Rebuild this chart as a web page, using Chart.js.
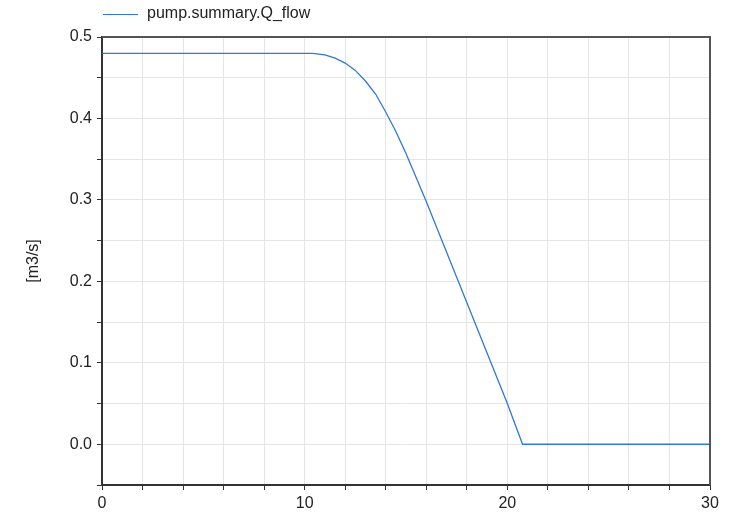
<!DOCTYPE html>
<html lang="en">
<head>
<meta charset="UTF-8">
<title>pump.summary.Q_flow</title>
<script src="https://cdn.jsdelivr.net/npm/chart.js"></script>
<style>
  html, body { margin: 0; padding: 0; background: #fff; }
  #wrap { width: 730px; height: 515px; }
</style>
</head>
<body>
<div id="wrap"><canvas id="chart" width="730" height="515"></canvas></div>
<script>
// time [s]
const timeValues = [0, 10.4, 11, 11.5, 12, 12.5, 13, 13.5, 14, 14.5, 15, 16, 17, 18, 19, 20, 20.75, 30];
// volume flow [m3/s]
const flowValues = [0.48, 0.48, 0.478, 0.474, 0.468, 0.459, 0.446, 0.43, 0.408, 0.384, 0.357, 0.298, 0.236, 0.174, 0.112, 0.05, 0, 0];
const seriesName = 'pump.summary.Q_flow';
const yTitle = '[m3/s]';

const lineColor = 'rgb(50, 120, 215)';
const fontFamily = '"Liberation Sans", Arial, sans-serif';

// rahmen oben und rechts + legende
const framePlugin = {
    id: 'frame',
    afterDraw(chart) {
        const { ctx, chartArea } = chart;
        ctx.save();
        ctx.strokeStyle = '#555';
        ctx.lineWidth = 2;
        ctx.beginPath();
        ctx.moveTo(chartArea.left, chartArea.top);
        ctx.lineTo(chartArea.right, chartArea.top);
        ctx.lineTo(chartArea.right, chartArea.bottom);
        ctx.stroke();

        // legende
        ctx.strokeStyle = lineColor;
        ctx.lineWidth = 1.2;
        ctx.beginPath();
        ctx.moveTo(103, 14.5);
        ctx.lineTo(138, 14.5);
        ctx.stroke();
        ctx.fillStyle = '#222';
        ctx.font = '16px ' + fontFamily;
        ctx.textBaseline = 'middle';
        ctx.textAlign = 'left';
        ctx.fillText(seriesName, 147, 14);
        ctx.restore();
    }
};

const points = timeValues.map((t, i) => ({ x: t, y: flowValues[i] }));

new Chart(document.getElementById('chart'), {
    type: 'line',
    data: {
        datasets: [{
            label: seriesName,
            data: points,
            borderColor: lineColor,
            borderWidth: 1.3,
            pointRadius: 0,
            tension: 0,
            fill: false
        }]
    },
    options: {
        responsive: false,
        animation: false,
        layout: { padding: { top: 37, right: 20, left: 0, bottom: 0 } },
        plugins: {
            legend: { display: false },
            tooltip: { enabled: false }
        },
        scales: {
            x: {
                type: 'linear',
                min: 0,
                max: 30,
                ticks: {
                    stepSize: 2,
                    autoSkip: false,
                    maxRotation: 0,
                    padding: 4,
                    color: '#222',
                    font: { family: fontFamily, size: 16 },
                    callback: v => (v % 10 === 0 ? String(v) : '')
                },
                grid: { color: '#e6e6e6', tickColor: '#333', tickLength: 5, lineWidth: 1 },
                border: { color: '#333', width: 2 },
                afterFit(scale) { scale.height = 30; }
            },
            y: {
                type: 'linear',
                min: -0.05,
                max: 0.5,
                ticks: {
                    stepSize: 0.05,
                    autoSkip: false,
                    padding: 5,
                    color: '#222',
                    font: { family: fontFamily, size: 16 },
                    callback: v => {
                        const r = Math.round(v * 10);
                        return Math.abs(v * 10 - r) < 1e-6 ? (r / 10).toFixed(1) : '';
                    }
                },
                grid: { color: '#e6e6e6', tickColor: '#333', tickLength: 5, lineWidth: 1 },
                border: { color: '#333', width: 2 },
                title: {
                    display: true,
                    text: yTitle,
                    color: '#222',
                    font: { family: fontFamily, size: 16 },
                    padding: { top: 24, bottom: 0 }
                },
                afterFit(scale) { scale.width = 102; }
            }
        }
    },
    plugins: [framePlugin]
});
</script>
</body>
</html>
